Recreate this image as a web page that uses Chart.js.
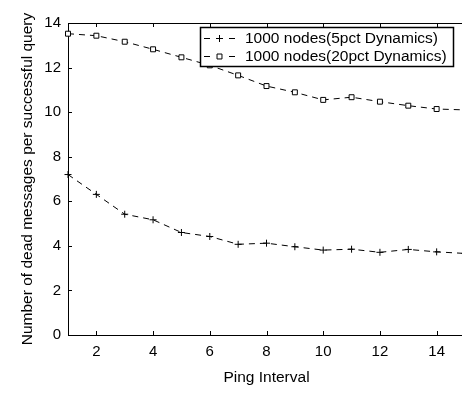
<!DOCTYPE html>
<html>
<head>
<meta charset="utf-8">
<script src="https://cdn.jsdelivr.net/npm/chart.js@4/dist/chart.umd.min.js"></script>
<style>
  html, body { margin: 0; padding: 0; background: #fff; overflow: hidden; }
  #wrap { width: 462px; height: 393px; overflow: hidden; position: relative; }
  canvas { display: block; }
</style>
</head>
<body>
<div id="wrap"><canvas id="c" width="470" height="393"></canvas></div>
<script>
const pingIntervals = [1, 2, 3, 4, 5, 6, 7, 8, 9, 10, 11, 12, 13, 14, 15];
const dyn5 = [7.2, 6.31, 5.42, 5.17, 4.6, 4.42, 4.07, 4.12, 3.96, 3.81, 3.85, 3.71, 3.84, 3.73, 3.66];
const dyn20 = [13.52, 13.43, 13.16, 12.82, 12.46, 12.1, 11.65, 11.17, 10.89, 10.55, 10.67, 10.47, 10.29, 10.14, 10.1];
const xTickLabels = [2, 4, 6, 8, 10, 12, 14];
const yTickLabels = [0, 2, 4, 6, 8, 10, 12, 14];
const seriesLabels = ['1000 nodes(5pct Dynamics)', '1000 nodes(20pct Dynamics)'];
const xTitle = 'Ping Interval';
const yTitle = 'Number of dead messages per successful query';

const FONT = 'Liberation Sans, Arial, Helvetica, sans-serif';

const framePlugin = {
  id: 'frame',
  beforeDatasetsDraw(chart) {
    const {ctx, chartArea: a, scales: {x, y}} = chart;
    ctx.save();
    ctx.strokeStyle = '#000';
    ctx.lineWidth = 1;
    ctx.beginPath();
    ctx.moveTo(a.left + 0.5, a.top + 0.5);
    ctx.lineTo(a.left + 0.5, a.bottom + 0.5);
    ctx.lineTo(a.right, a.bottom + 0.5);
    ctx.moveTo(a.left, a.top + 0.5);
    ctx.lineTo(a.right, a.top + 0.5);
    const tl = 4;
    xTickLabels.forEach(v => {
      const px = Math.round(x.getPixelForValue(v)) + 0.5;
      ctx.moveTo(px, a.bottom);
      ctx.lineTo(px, a.bottom - tl);
      ctx.moveTo(px, a.top);
      ctx.lineTo(px, a.top + tl);
    });
    yTickLabels.forEach(v => {
      const py = Math.round(y.getPixelForValue(v)) + 0.5;
      ctx.moveTo(a.left, py);
      ctx.lineTo(a.left + tl, py);
    });
    ctx.stroke();
    ctx.restore();
  }
};

const legendPlugin = {
  id: 'boxLegend',
  afterDatasetsDraw(chart) {
    const {ctx} = chart;
    const box = {l: 200, t: 27, r: 453, b: 66};
    ctx.save();
    ctx.fillStyle = '#fff';
    ctx.fillRect(box.l, box.t, box.r - box.l, box.b - box.t);
    ctx.strokeStyle = '#000';
    ctx.lineWidth = 1.5;
    ctx.strokeRect(box.l + 0.5, box.t + 0.5, box.r - box.l, box.b - box.t);
    const rows = [38, 56];
    chart.data.datasets.forEach((ds, i) => {
      const cy = rows[i] + 0.5;
      ctx.strokeStyle = '#000';
      ctx.lineWidth = 1;
      ctx.beginPath();
      ctx.moveTo(204, cy); ctx.lineTo(210, cy);
      ctx.moveTo(229, cy); ctx.lineTo(235, cy);
      ctx.stroke();
      ctx.fillStyle = '#fff';
      ctx.strokeStyle = '#000';
      Chart.helpers.drawPoint(ctx, {
        pointStyle: ds.pointStyle, radius: ds.pointRadius, borderWidth: 1, rotation: 0
      }, 219.5, cy);
      ctx.fillStyle = '#000';
      ctx.font = '15.5px ' + FONT;
      ctx.textBaseline = 'middle';
      ctx.textAlign = 'left';
      ctx.fillText(ds.label, 245, cy + 0.5);
    });
    ctx.restore();
  }
};

new Chart(document.getElementById('c'), {
  type: 'line',
  data: {
    labels: pingIntervals,
    datasets: [
      {
        label: seriesLabels[0],
        data: pingIntervals.map((v, i) => ({x: v, y: dyn5[i]})),
        borderColor: '#000', borderWidth: 1, borderDash: [6, 5],
        pointStyle: 'cross', pointRadius: 3.5, pointBorderWidth: 1,
        pointBorderColor: '#000', pointBackgroundColor: '#fff',
        tension: 0, clip: false
      },
      {
        label: seriesLabels[1],
        data: pingIntervals.map((v, i) => ({x: v, y: dyn20[i]})),
        borderColor: '#000', borderWidth: 1, borderDash: [6, 5],
        pointStyle: 'rect', pointRadius: 3.5, pointBorderWidth: 1,
        pointBorderColor: '#000', pointBackgroundColor: '#fff',
        tension: 0, clip: false
      }
    ]
  },
  options: {
    responsive: false,
    animation: false,
    devicePixelRatio: 1,
    layout: {padding: {left: 0, top: 23, right: 4, bottom: 0}},
    plugins: {legend: {display: false}, tooltip: {enabled: false}},
    scales: {
      x: {
        type: 'linear', min: 1, max: 15,
        afterFit(s) { s.height = 58; },
        afterBuildTicks(s) { s.ticks = xTickLabels.map(v => ({value: v})); },
        grid: {display: false, drawTicks: false},
        border: {display: false},
        ticks: {color: '#000', font: {family: FONT, size: 15}, padding: 8, maxRotation: 0, autoSkip: false},
        title: {display: true, text: xTitle, color: '#000', font: {family: FONT, size: 15.5}, padding: {top: 0, bottom: 6}}
      },
      y: {
        type: 'linear', min: 0, max: 14,
        afterFit(s) { s.width = 68; },
        afterBuildTicks(s) { s.ticks = yTickLabels.map(v => ({value: v})); },
        grid: {display: false, drawTicks: false},
        border: {display: false},
        ticks: {color: '#000', font: {family: FONT, size: 15}, padding: 7, autoSkip: false},
        title: {display: true, text: yTitle, color: '#000', font: {family: FONT, size: 15.5}, padding: {top: 18, bottom: 0}}
      }
    }
  },
  plugins: [framePlugin, legendPlugin]
});
</script>
</body>
</html>
